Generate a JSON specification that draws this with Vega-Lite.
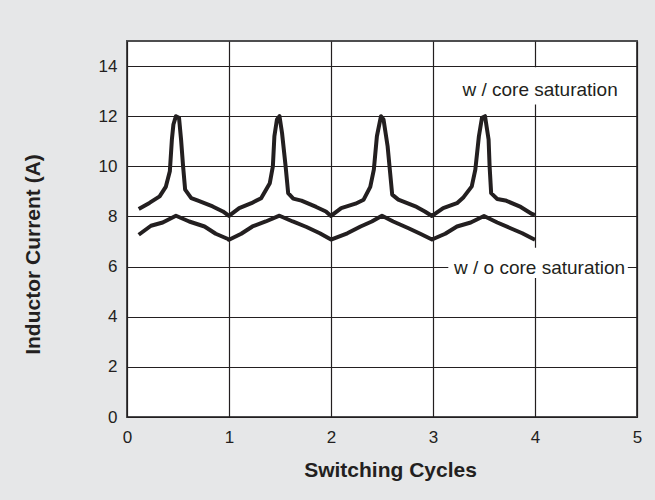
{
  "$schema": "https://vega.github.io/schema/vega-lite/v6.json",
  "width": 510,
  "height": 376,
  "autosize": {"type": "none"},
  "padding": {"left": 127, "top": 41, "right": 18, "bottom": 83},
  "background": "#e6e7e8",
  "config": {
    "view": {"fill": "white", "stroke": "#4d4d4f", "strokeWidth": 2},
    "font": "Liberation Sans"
  },
  "datasets": {
    "curves": [
      {"s": "sat", "x": 0.115, "y": 8.30}, {"s": "sat", "x": 0.22, "y": 8.54}, {"s": "sat", "x": 0.32, "y": 8.80},
      {"s": "sat", "x": 0.38, "y": 9.18}, {"s": "sat", "x": 0.42, "y": 9.80}, {"s": "sat", "x": 0.44, "y": 11.07},
      {"s": "sat", "x": 0.455, "y": 11.67}, {"s": "sat", "x": 0.48, "y": 12.0}, {"s": "sat", "x": 0.51, "y": 11.94},
      {"s": "sat", "x": 0.53, "y": 11.07}, {"s": "sat", "x": 0.55, "y": 10.0}, {"s": "sat", "x": 0.57, "y": 9.07},
      {"s": "sat", "x": 0.63, "y": 8.73}, {"s": "sat", "x": 0.69, "y": 8.64}, {"s": "sat", "x": 0.84, "y": 8.40},
      {"s": "sat", "x": 0.94, "y": 8.20}, {"s": "sat", "x": 1.0, "y": 8.02},
      {"s": "sat", "x": 1.10, "y": 8.33}, {"s": "sat", "x": 1.22, "y": 8.53}, {"s": "sat", "x": 1.315, "y": 8.73},
      {"s": "sat", "x": 1.40, "y": 9.33}, {"s": "sat", "x": 1.43, "y": 10.0}, {"s": "sat", "x": 1.445, "y": 11.2},
      {"s": "sat", "x": 1.47, "y": 11.87}, {"s": "sat", "x": 1.495, "y": 12.0}, {"s": "sat", "x": 1.52, "y": 11.33},
      {"s": "sat", "x": 1.555, "y": 10.0}, {"s": "sat", "x": 1.58, "y": 8.93}, {"s": "sat", "x": 1.63, "y": 8.71},
      {"s": "sat", "x": 1.71, "y": 8.63}, {"s": "sat", "x": 1.855, "y": 8.38}, {"s": "sat", "x": 1.95, "y": 8.20},
      {"s": "sat", "x": 2.0, "y": 8.02},
      {"s": "sat", "x": 2.10, "y": 8.33}, {"s": "sat", "x": 2.24, "y": 8.51}, {"s": "sat", "x": 2.32, "y": 8.67},
      {"s": "sat", "x": 2.385, "y": 9.18}, {"s": "sat", "x": 2.42, "y": 9.87}, {"s": "sat", "x": 2.45, "y": 11.2},
      {"s": "sat", "x": 2.49, "y": 12.0}, {"s": "sat", "x": 2.515, "y": 11.87}, {"s": "sat", "x": 2.555, "y": 10.8},
      {"s": "sat", "x": 2.58, "y": 9.73}, {"s": "sat", "x": 2.60, "y": 8.87}, {"s": "sat", "x": 2.66, "y": 8.67},
      {"s": "sat", "x": 2.84, "y": 8.38}, {"s": "sat", "x": 2.92, "y": 8.2}, {"s": "sat", "x": 2.99, "y": 8.02},
      {"s": "sat", "x": 3.10, "y": 8.33}, {"s": "sat", "x": 3.235, "y": 8.53}, {"s": "sat", "x": 3.30, "y": 8.77},
      {"s": "sat", "x": 3.38, "y": 9.2}, {"s": "sat", "x": 3.415, "y": 9.87}, {"s": "sat", "x": 3.45, "y": 11.2},
      {"s": "sat", "x": 3.48, "y": 11.94}, {"s": "sat", "x": 3.51, "y": 12.0}, {"s": "sat", "x": 3.545, "y": 11.07},
      {"s": "sat", "x": 3.555, "y": 10.0}, {"s": "sat", "x": 3.57, "y": 8.93}, {"s": "sat", "x": 3.63, "y": 8.70},
      {"s": "sat", "x": 3.71, "y": 8.64}, {"s": "sat", "x": 3.86, "y": 8.38}, {"s": "sat", "x": 3.97, "y": 8.10},
      {"s": "sat", "x": 4.0, "y": 8.05},
      {"s": "nosat", "x": 0.115, "y": 7.27}, {"s": "nosat", "x": 0.235, "y": 7.63}, {"s": "nosat", "x": 0.35, "y": 7.76},
      {"s": "nosat", "x": 0.48, "y": 8.03}, {"s": "nosat", "x": 0.61, "y": 7.80}, {"s": "nosat", "x": 0.76, "y": 7.60},
      {"s": "nosat", "x": 0.87, "y": 7.31}, {"s": "nosat", "x": 0.99, "y": 7.10}, {"s": "nosat", "x": 1.0, "y": 7.07},
      {"s": "nosat", "x": 1.12, "y": 7.31}, {"s": "nosat", "x": 1.23, "y": 7.60}, {"s": "nosat", "x": 1.36, "y": 7.80},
      {"s": "nosat", "x": 1.495, "y": 8.03}, {"s": "nosat", "x": 1.625, "y": 7.80}, {"s": "nosat", "x": 1.76, "y": 7.58},
      {"s": "nosat", "x": 1.89, "y": 7.33}, {"s": "nosat", "x": 2.0, "y": 7.08},
      {"s": "nosat", "x": 2.16, "y": 7.33}, {"s": "nosat", "x": 2.29, "y": 7.60}, {"s": "nosat", "x": 2.40, "y": 7.80},
      {"s": "nosat", "x": 2.50, "y": 8.03}, {"s": "nosat", "x": 2.61, "y": 7.80}, {"s": "nosat", "x": 2.76, "y": 7.53},
      {"s": "nosat", "x": 2.875, "y": 7.31}, {"s": "nosat", "x": 2.99, "y": 7.08},
      {"s": "nosat", "x": 3.12, "y": 7.31}, {"s": "nosat", "x": 3.235, "y": 7.60}, {"s": "nosat", "x": 3.37, "y": 7.76},
      {"s": "nosat", "x": 3.50, "y": 8.02}, {"s": "nosat", "x": 3.63, "y": 7.76}, {"s": "nosat", "x": 3.76, "y": 7.53},
      {"s": "nosat", "x": 3.875, "y": 7.33}, {"s": "nosat", "x": 3.97, "y": 7.13}, {"s": "nosat", "x": 4.0, "y": 7.07}
    ],
    "boxes": [
      {"x": 3.22, "xe": 4.89, "y": 12.47, "ye": 13.95},
      {"x": 3.15, "xe": 4.91, "y": 5.55, "ye": 6.75}
    ],
    "labels": [
      {"x": 4.05, "y": 12.79, "label": "w / core saturation"},
      {"x": 4.045, "y": 5.71, "label": "w / o core saturation"}
    ]
  },
  "layer": [
    {
      "data": {"name": "boxes"},
      "mark": {"type": "rect", "fill": "white"},
      "encoding": {
        "x": {
          "field": "x", "type": "quantitative",
          "scale": {"domain": [0, 5], "nice": false},
          "axis": {
            "values": [0, 1, 2, 3, 4, 5], "format": "d", "grid": true, "gridColor": "#231f20", "gridWidth": 1.2,
            "ticks": false, "domain": false, "labelFontSize": 17, "labelColor": "#231f20",
            "labelPadding": 12, "labelFlush": false, "title": "Switching Cycles", "titleFontSize": 21,
            "titleFontWeight": "bold", "titleColor": "#231f20", "titlePadding": 14, "titleX": 263
          }
        },
        "x2": {"field": "xe"},
        "y": {
          "field": "y", "type": "quantitative",
          "scale": {"domain": [0, 15], "nice": false},
          "axis": {
            "values": [0, 2, 4, 6, 8, 10, 12, 14], "format": "d", "grid": true, "gridColor": "#231f20", "gridWidth": 1.2,
            "ticks": false, "domain": false, "labelFontSize": 17, "labelColor": "#231f20",
            "labelPadding": 10, "labelFlush": false, "title": "Inductor Current (A)", "titleFontSize": 21,
            "titleFontWeight": "bold", "titleColor": "#231f20", "titlePadding": 55, "titleY": 213
          }
        },
        "y2": {"field": "ye"}
      }
    },
    {
      "data": {"name": "curves"},
      "mark": {"type": "line", "color": "#231f20", "strokeWidth": 4, "strokeJoin": "round"},
      "encoding": {
        "x": {"field": "x", "type": "quantitative"},
        "y": {"field": "y", "type": "quantitative"},
        "detail": {"field": "s"}
      }
    },
    {
      "data": {"name": "labels"},
      "mark": {"type": "text", "fontSize": 19, "color": "#231f20", "align": "center", "baseline": "alphabetic"},
      "encoding": {
        "x": {"field": "x", "type": "quantitative"},
        "y": {"field": "y", "type": "quantitative"},
        "text": {"field": "label"}
      }
    }
  ]
}
